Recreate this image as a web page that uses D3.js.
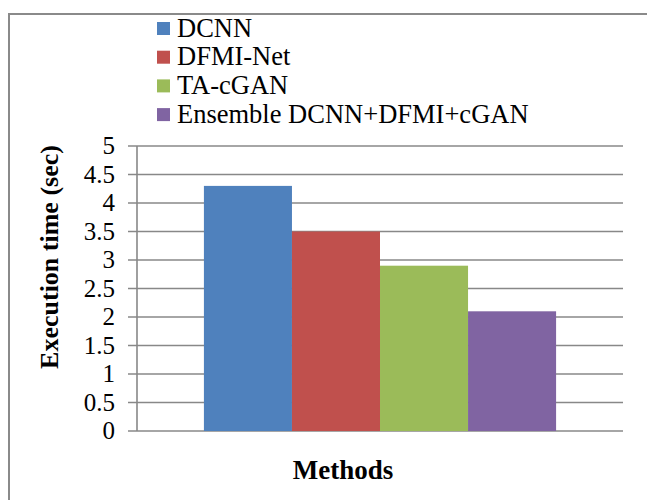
<!DOCTYPE html>
<html>
<head>
<meta charset="utf-8">
<script src="https://cdn.jsdelivr.net/npm/d3@7"></script>
<style>
  body { margin: 0; background: #fff; }
  svg { display: block; }
  text { font-family: "Liberation Serif", "Times New Roman", serif; fill: #000; }
</style>
</head>
<body>
<div id="chart"></div>
<script>
// Data
const methods = ['DCNN', 'DFMI-Net', 'TA-cGAN', 'Ensemble DCNN+DFMI+cGAN'];
const execTimes = [4.3, 3.5, 2.9, 2.1];
const colors = ['#4F81BD', '#C0504D', '#9BBB59', '#8064A2'];
const yTicks = [0, 0.5, 1, 1.5, 2, 2.5, 3, 3.5, 4, 4.5, 5];

const W = 647, H = 500;
const plot = { left: 137, right: 623, top: 146, bottom: 431 };

const svg = d3.select('#chart')
  .append('svg')
  .attr('width', W)
  .attr('height', H);

// Outer frame (top and left edges visible)
svg.append('path')
  .attr('d', `M9,${H} L9,14 L${W},14`)
  .attr('fill', 'none')
  .attr('stroke', '#8a8a8a')
  .attr('stroke-width', 2);

// Scales
const y = d3.scaleLinear()
  .domain([0, 5])
  .range([plot.bottom, plot.top]);

const x = d3.scaleBand()
  .domain(methods)
  .range([plot.left, plot.right])
  .paddingInner(0)
  .paddingOuter(0.76);

// Gridlines with outside tick marks
svg.append('g')
  .selectAll('line')
  .data(yTicks)
  .join('line')
  .attr('x1', plot.left - 9)
  .attr('x2', plot.right)
  .attr('y1', d => y(d))
  .attr('y2', d => y(d))
  .attr('stroke', '#888')
  .attr('stroke-width', 1.6);

// Y axis line
svg.append('line')
  .attr('x1', plot.left)
  .attr('x2', plot.left)
  .attr('y1', plot.top)
  .attr('y2', plot.bottom)
  .attr('stroke', '#888')
  .attr('stroke-width', 1.6);

// Tick labels
svg.append('g')
  .selectAll('text')
  .data(yTicks)
  .join('text')
  .attr('x', plot.left - 22)
  .attr('y', d => y(d) + 8)
  .attr('text-anchor', 'end')
  .attr('font-size', '25px')
  .text(d => d);

// Bars
svg.append('g')
  .selectAll('rect')
  .data(methods)
  .join('rect')
  .attr('x', d => x(d))
  .attr('width', x.bandwidth())
  .attr('y', (d, i) => y(execTimes[i]))
  .attr('height', (d, i) => plot.bottom - y(execTimes[i]))
  .attr('fill', (d, i) => colors[i]);

// Axis titles
svg.append('text')
  .attr('transform', `translate(58,257) rotate(-90)`)
  .attr('text-anchor', 'middle')
  .attr('font-size', '26px')
  .attr('font-weight', 'bold')
  .text('Execution time (sec)');

svg.append('text')
  .attr('x', 343)
  .attr('y', 479)
  .attr('text-anchor', 'middle')
  .attr('font-size', '27px')
  .attr('font-weight', 'bold')
  .text('Methods');

// Legend
const legend = svg.append('g')
  .attr('transform', 'translate(157,22)');

const rows = legend.selectAll('g')
  .data(methods)
  .join('g')
  .attr('transform', (d, i) => `translate(0,${i * 28.7})`);

rows.append('rect')
  .attr('width', 13)
  .attr('height', 13)
  .attr('fill', (d, i) => colors[i]);

rows.append('text')
  .attr('x', 20)
  .attr('y', 14.7)
  .attr('font-size', '26.5px')
  .text(d => d);
</script>
</body>
</html>
